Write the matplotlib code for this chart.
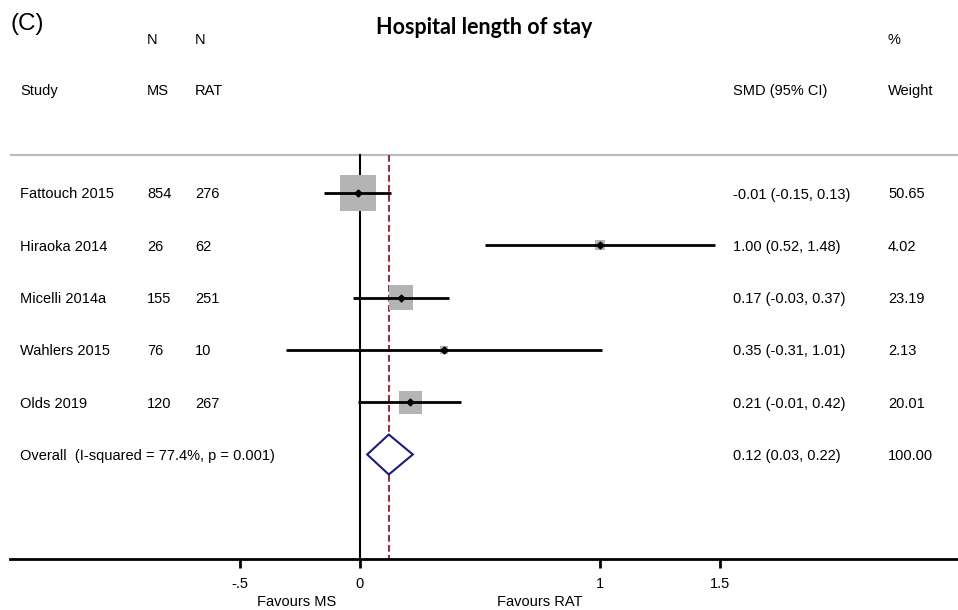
import numpy as np
import matplotlib.pyplot as plt
from matplotlib.patches import Rectangle, Polygon
from matplotlib.transforms import blended_transform_factory

plt.rcParams['font.family'] = ['Liberation Sans', 'DejaVu Sans']

studies = ["Fattouch 2015", "Hiraoka 2014", "Micelli 2014a", "Wahlers 2015", "Olds 2019"]
n_ms = [854, 26, 155, 76, 120]
n_rat = [276, 62, 251, 10, 267]
smd = [-0.01, 1.00, 0.17, 0.35, 0.21]
ci_lo = [-0.15, 0.52, -0.03, -0.31, -0.01]
ci_hi = [0.13, 1.48, 0.37, 1.01, 0.42]
weight = [50.65, 4.02, 23.19, 2.13, 20.01]

overall_label = "Overall  (I-squared = 77.4%, p = 0.001)"
overall_est, overall_lo, overall_hi = 0.12, 0.03, 0.22

xticks = [-0.5, 0, 1, 1.5]
xtick_labels = ["-.5", "0", "1", "1.5"]

W, H = 958, 610
fig = plt.figure(figsize=(W / 100, H / 100), dpi=100)
ax = fig.add_axes([10 / W, (H - 559) / H, 948 / W, 559 / H])

# x in SMD units, 240 px per unit with 0 at px 360; y in rows, 52.3 px per row
px_x, px_y = 240.0, 52.3
ax.set_xlim((10 - 360) / px_x, (958 - 360) / px_x)
ax.set_ylim((559 - 193) / px_y, -193 / px_y)

for s in ['top', 'right', 'left']:
    ax.spines[s].set_visible(False)
ax.spines['bottom'].set_linewidth(2.0)
ax.set_yticks([])
ax.set_xticks(xticks)
ax.set_xticklabels(xtick_labels, fontsize=10.5)
ax.tick_params(axis='x', width=2.0, length=6.5, pad=6.5)

rows = np.arange(len(studies))
overall_row = len(studies)
line_top = -0.73

# header separator
ax.axhline(line_top, color='#bdbdbd', lw=1.6, zorder=1)
# null line and pooled-estimate line
ax.plot([0, 0], [line_top, ax.get_ylim()[0]], color='black', lw=1.5, zorder=2)
ax.plot([overall_est, overall_est], [line_top, ax.get_ylim()[0]], color='#93313e',
        lw=1.5, dashes=(3.2, 1.6), zorder=2)

# study boxes (area proportional to weight), CIs and point estimates
max_side = 36.0
for r, e, lo, hi, w in zip(rows, smd, ci_lo, ci_hi, weight):
    side = max_side * np.sqrt(w / max(weight))
    ax.add_patch(Rectangle((e - side / 2 / px_x, r - side / 2 / px_y), side / px_x, side / px_y,
                           facecolor='#b4b4b4', edgecolor='none', zorder=3))
    ax.plot([lo, hi], [r, r], color='black', lw=2.0, solid_capstyle='butt', zorder=4)
    ax.plot(e, r, marker='D', color='black', markersize=3.5, zorder=5)

# pooled diamond
dh = 20 / px_y
ax.add_patch(Polygon([(overall_lo, overall_row), (overall_est, overall_row - dh),
                      (overall_hi, overall_row), (overall_est, overall_row + dh)],
                     closed=True, facecolor='white', edgecolor='#1c1c7a', lw=1.5, zorder=4))

# text columns
tr = blended_transform_factory(fig.transFigure, ax.transData)
col_study, col_ms, col_rat, col_smd, col_w = 20 / W, 147 / W, 195 / W, 733 / W, 888 / W
fs = 10.5
va = 'center_baseline'
hdr1, hdr2 = -2.96, -1.97
ax.text(col_ms, hdr1, "N", transform=tr, fontsize=fs, va=va)
ax.text(col_rat, hdr1, "N", transform=tr, fontsize=fs, va=va)
ax.text(col_w, hdr1, "%", transform=tr, fontsize=fs, va=va)
ax.text(col_study, hdr2, "Study", transform=tr, fontsize=fs, va=va)
ax.text(col_ms, hdr2, "MS", transform=tr, fontsize=fs, va=va)
ax.text(col_rat, hdr2, "RAT", transform=tr, fontsize=fs, va=va)
ax.text(col_smd, hdr2, "SMD (95% CI)", transform=tr, fontsize=fs, va=va)
ax.text(col_w, hdr2, "Weight", transform=tr, fontsize=fs, va=va)

for r, name, a, b, e, lo, hi, w in zip(rows, studies, n_ms, n_rat, smd, ci_lo, ci_hi, weight):
    ax.text(col_study, r, name, transform=tr, fontsize=fs, va=va)
    ax.text(col_ms, r, str(a), transform=tr, fontsize=fs, va=va)
    ax.text(col_rat, r, str(b), transform=tr, fontsize=fs, va=va)
    ax.text(col_smd, r, f"{e:.2f} ({lo:.2f}, {hi:.2f})", transform=tr, fontsize=fs, va=va)
    ax.text(col_w, r, f"{w:.2f}", transform=tr, fontsize=fs, va=va)

ax.text(col_study, overall_row, overall_label, transform=tr, fontsize=fs, va=va)
ax.text(col_smd, overall_row,
        f"{overall_est:.2f} ({overall_lo:.2f}, {overall_hi:.2f})", transform=tr, fontsize=fs, va=va)
ax.text(col_w, overall_row, f"{sum(weight):.2f}", transform=tr, fontsize=fs, va=va)

# title and panel letter
fig.text(484 / W, 1 - 27 / H, "Hospital length of stay", fontsize=15.5, fontweight='bold',
         family=['Lato', 'DejaVu Sans'], ha='center', va='center')
fig.text(10 / W, 1 - 24 / H, "(C)", fontsize=17.5, va='center')

# direction labels under the axis
trb = blended_transform_factory(ax.transData, fig.transFigure)
ax.text(-0.2625, 1 - 602 / H, "Favours MS", transform=trb, fontsize=fs, ha='center', va='center')
ax.text(0.75, 1 - 602 / H, "Favours RAT", transform=trb, fontsize=fs, ha='center', va='center')

fig.savefig("out.png", dpi=100)
